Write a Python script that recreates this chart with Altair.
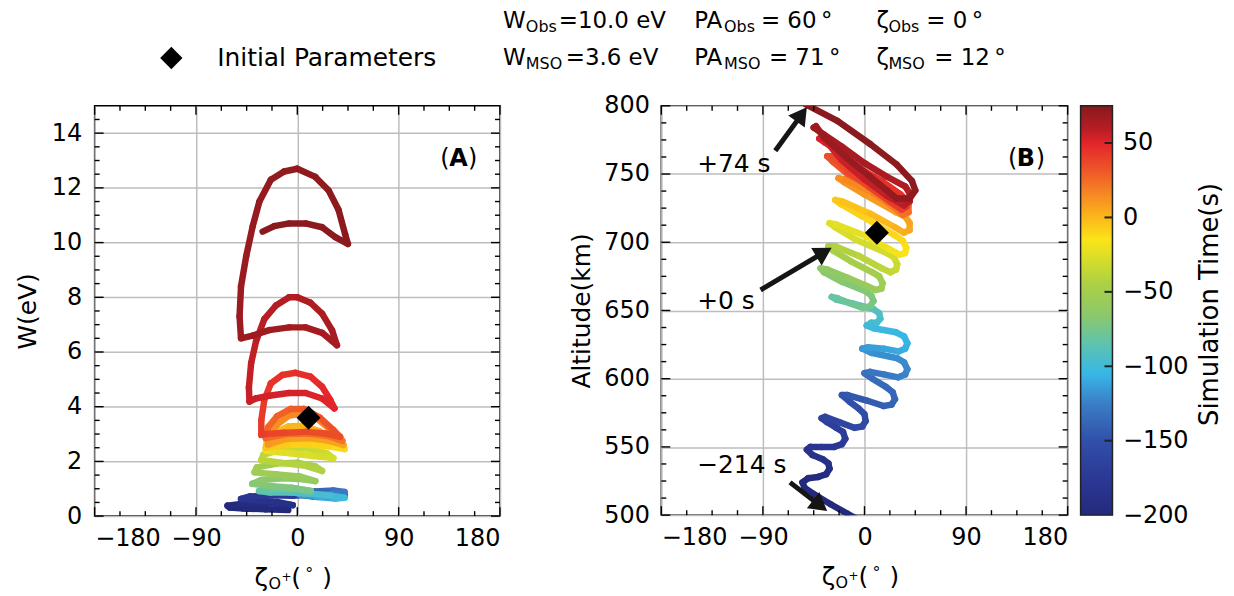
import math
import altair as alt
import pandas as pd

FONT = "DejaVu Sans"

# ---------------- data ----------------
# Panel A : gyrophase zeta (deg), energy W (eV), simulation time (s)
zeta_a = [-8, -28, -48, -60, -62, -50, -30, -12, -4,
          -18, -38, -50, -42, -22, -4,
          15, 32, 42, 32, 14, 2, 16, 32, 42, 30, 12, 2,
          18, 34, 42, 30, 12,
          -6, -24, -34, -22, 0, 12,
          -5, -25, -40, -32, -12, 5, 16,
          2, -18, -38, -36, -18, 0, 16, 22,
          6, -15, -32, -30, -12, 8, 26, 32, 14, -6, -22,
          -28, -27, -20, -8, 5, 20, 35, 42, 28, 10, -8, -22,
          -28, -27, -20, -8, 5, 20, 33, 41, 28, 10, -10,
          -26, -25, -18, -7, 5, 18, 30, 40, 28, 10, -10,
          -28, -26, -18, -6, 6, 20, 32, 38, 25, 8, -12, -28,
          -32, -32, -29.3, -23.5, -13.2, -1.5, 11.7, 22, 29.3, 33, 22, 7.3, -7.3, -25, -37,
          -42.5, -43, -41, -36.6, -29.3, -19, -7.3, 0, 11.7, 22, 30.8, 35.2, 22, 7.3, -7.3, -25, -39.6,
          -50, -51.3, -50, -45.4, -39.6, -33.7, -23.5, -11.7, 0, 16, 27.9, 36.6, 42.5, 44.9,
          33.7, 22, 7.3, -7.3, -20.5, -30.8]
w_a = [0.22, 0.25, 0.28, 0.31, 0.38, 0.44, 0.47, 0.44, 0.40,
       0.52, 0.58, 0.63, 0.72, 0.76, 0.74,
       0.80, 0.82, 0.76, 0.70, 0.72, 0.78, 0.90, 0.94, 0.88, 0.80, 0.78, 0.80,
       0.70, 0.64, 0.67, 0.75, 0.82,
       0.86, 0.86, 0.92, 1.00, 0.99, 0.92,
       1.04, 1.10, 1.18, 1.32, 1.38, 1.35, 1.28,
       1.45, 1.52, 1.60, 1.78, 1.92, 1.95, 1.82, 1.65,
       1.85, 1.95, 2.05, 2.25, 2.45, 2.48, 2.30, 2.12, 2.20, 2.30, 2.35,
       2.40, 2.55, 2.72, 2.84, 2.85, 2.75, 2.55, 2.45, 2.55, 2.62, 2.60, 2.55,
       2.50, 2.75, 3.05, 3.28, 3.30, 3.10, 2.80, 2.60, 2.75, 2.85, 2.82,
       2.62, 2.95, 3.35, 3.68, 3.75, 3.55, 3.15, 2.75, 2.92, 3.02, 3.00,
       2.85, 3.25, 3.65, 3.92, 3.92, 3.60, 3.15, 2.90, 3.02, 3.08, 3.05, 3.00,
       2.97, 3.50, 4.25, 4.85, 5.16, 5.24, 5.10, 4.73, 4.25, 3.94, 4.30, 4.50, 4.50, 4.40, 4.30,
       4.19, 4.70, 5.60, 6.40, 7.20, 7.70, 8.00, 8.00, 7.80, 7.40, 6.80, 6.25, 6.70, 6.90, 6.90, 6.80, 6.60,
       6.50, 7.30, 8.40, 9.50, 10.60, 11.50, 12.30, 12.60, 12.70, 12.40, 11.90, 11.20, 10.30, 9.95,
       10.20, 10.56, 10.70, 10.70, 10.60, 10.40]
t_a = [-214, -210, -206, -203, -201, -198, -195, -192, -190,
       -187, -184, -181, -178, -175, -172,
       -167, -162, -157, -153, -149, -145, -140, -135, -130, -125, -121, -117,
       -112, -107, -102, -98, -94,
       -90, -87, -84, -81, -78, -75,
       -72, -70, -68, -66, -64, -62, -60,
       -57.5, -55.5, -53.5, -52, -50, -48, -46, -44.5,
       -42.5, -41, -39.5, -38, -36, -34, -32, -30, -28, -26, -24,
       -22, -20.5, -19, -17.5, -16, -14.5, -13, -12, -10.5, -9, -7.5, -6,
       -5, -3.5, -2, -0.5, 1, 2.5, 4, 5.5, 7, 8, 9,
       10, 11.5, 13, 14.5, 16, 17.5, 19, 20.5, 22, 23, 24,
       25, 26, 27.5, 29, 30.5, 32, 33.5, 34.5, 35.5, 36.5, 37.5, 38.5,
       41, 42, 43, 44, 45, 46, 47, 48, 49, 50, 51, 52, 53, 54, 54.8,
       55.5, 56, 57, 58, 59, 60, 61, 61.5, 62.3, 63, 63.7, 64.3, 65, 65.7, 66.3, 67, 67.6,
       68, 68.4, 68.8, 69.3, 69.8, 70.3, 70.8, 71.3, 71.7, 72.1, 72.5, 72.9, 73.2, 73.4,
       73.6, 73.7, 73.8, 73.9, 73.95, 74]

# Panel B : gyrophase zeta (deg), altitude (km), simulation time (s)
zeta_b = [-2, -15, -30, -44, -53, -55, -50, -41, -34, -31, -32, -37,
          -46, -51, -48, -38, -27, -20, -17, -19, -25,
          -33, -38, -35, -22, -9, -2, 1, 0, -5,
          -13, -20, -15, 2, 17, 24, 27, 25, 19,
          7, 0, 5, 18, 30, 36, 38, 35, 29,
          6, -2, 3, 17, 30, 36, 38, 35, 28,
          8, 2, 6, 11, 14, 13, 8,
          -10, -25, -29, -24, -12, -2, 5, 8, 6, 1,
          -20, -36, -39, -33, -15, 2, 10, 15, 16, 13, 7,
          -12, -28, -32, -26, -5, 15, 23, 28, 29, 26, 20,
          -8, -26, -31, -25, 0, 22, 31, 36, 37, 34, 27,
          -2, -21, -26, -20, 5, 27, 35, 40, 40, 36, 28,
          0, -18, -23, -17, 8, 27, 34, 39, 39, 35, 27,
          5, -15, -28, -33, -28, -15, 5, 22, 33, 37, 37, 32,
          15, 0, -20, -35, -40, -36, -20, 0, 20, 35, 40, 40, 36,
          20, 0, -20, -36, -45, -43, -36, -16, 5, 20, 28.5, 40, 45,
          42, 28.5, 5, -24, -52]
alt_b = [495, 501, 508, 515, 520, 524, 527, 528, 530, 534, 538, 541,
         544, 548, 550, 550, 550, 552, 556, 561, 564,
         568, 571, 572, 568, 564, 565, 569, 574, 578,
         583, 588, 588, 584, 580, 581, 585, 590, 594,
         600, 604, 605, 603, 601, 603, 607, 612, 615,
         619, 622, 623, 622, 620, 622, 626, 631, 634,
         637, 639, 641, 641, 644, 648, 651,
         655, 658, 660, 659, 655, 652, 653, 657, 661, 664,
         671, 678, 681, 680, 674, 668, 665, 666, 670, 675, 678,
         686, 694, 697, 697, 690, 681, 678, 680, 684, 689, 692,
         702, 711, 714, 713, 705, 695, 691, 692, 696, 701, 705,
         719, 728, 731, 730, 721, 711, 707, 709, 714, 719, 722,
         735, 744, 747, 746, 736, 725, 720, 722, 727, 732, 735,
         741, 750, 759, 763, 763, 752, 740, 730, 724, 726, 731, 735,
         745, 752, 765, 773, 776, 776, 760, 746, 734, 727, 730, 736, 741,
         748, 758, 770, 779, 784, 785, 777, 762, 748, 738, 732, 732, 738,
         745, 757, 772, 789, 801]
t_b = [-214, -211, -208, -205, -203, -201, -199, -197, -195, -193, -191, -189,
       -187, -185, -183, -180, -177, -175, -173, -171, -169,
       -167.5, -166, -164, -161, -159, -157, -155.5, -154, -152.5,
       -151, -149, -147, -145, -142, -140, -139, -137.5, -136,
       -135, -133, -131, -128, -126, -124, -123, -121.5, -120,
       -119, -117, -115, -112, -110, -108, -107, -105.5, -104,
       -103, -101, -99, -97, -95, -93, -90,
       -87, -85, -83, -81, -79, -76, -74, -72.5, -71, -69.5,
       -68, -66, -64.5, -63, -61, -58, -56, -54.5, -53, -51.5, -50,
       -48.5, -47, -45.5, -44, -41, -38, -36.5, -35, -33.5, -32, -30.5,
       -29, -27.5, -26, -24.5, -21.5, -18.5, -17, -15.5, -14, -12.5, -11,
       -9.5, -8, -6.5, -5, -2, 1, 2.5, 4, 5.5, 7, 8.5,
       10, 11.5, 13, 14.5, 17.5, 20.5, 22, 23.5, 25, 26.5, 28,
       29.5, 31, 32.5, 34, 35, 36.5, 38.5, 40.5, 42, 43, 44, 45,
       46.5, 48, 50, 51.5, 52.5, 53.5, 55, 56.5, 58, 59, 60, 61, 62,
       63, 64, 65, 66, 67, 67.5, 68, 69, 70, 70.7, 71.2, 71.7, 72.2,
       72.6, 73, 73.4, 73.7, 74]

# initial parameters (diamonds)
init_a = {"zeta": [10], "w": [3.6]}
init_b = {"zeta": [11], "alt": [707]}

# annotation arrows in panel B (tail -> head) and labels
arrow_label = ["+74 s", "+0 s", "\u2212214 s"]
arrow_tail_z = [-79, -92, -66]
arrow_tail_alt = [767, 665, 524]
arrow_head_z = [-51, -29, -33]
arrow_head_alt = [799, 696, 503]

# colour scale (simulation time -> jet-like colours)
cb_values = [-200, -175, -150, -125, -105, -85, -65, -45, -30, -15, 0, 15, 30, 50, 60, 75]
cb_colors = ["#232a7b", "#2b3895", "#3150a9", "#3a7ec7", "#37b7e6", "#5ec3ae", "#8dc86a",
             "#abd045", "#d2dc2c", "#fbe418", "#fbb71b", "#f68a23", "#ef5b28", "#e3242b",
             "#b51d24", "#861a1d"]
cb_ticks = [-200, -150, -100, -50, 0, 50]

# axis ticks
x_major = [-180, -90, 0, 90, 180]
x_minor = [-157.5, -135, -112.5, -67.5, -45, -22.5, 22.5, 45, 67.5, 112.5, 135, 157.5]
ya_major = [0, 2, 4, 6, 8, 10, 12, 14]
ya_minor = [0.5, 1, 1.5, 2.5, 3, 3.5, 4.5, 5, 5.5, 6.5, 7, 7.5, 8.5, 9, 9.5,
            10.5, 11, 11.5, 12.5, 13, 13.5, 14.5]
yb_major = [500, 550, 600, 650, 700, 750, 800]
yb_minor = [512.5, 525, 537.5, 562.5, 575, 587.5, 612.5, 625, 637.5, 662.5, 675, 687.5,
            712.5, 725, 737.5, 762.5, 775, 787.5]

# ---------------- layout ----------------
WA, HA = 407, 412
WB, HB = 408, 411
CB_X0, CB_X1 = 421, 453   # colour bar position relative to panel B plot
FS = 24
LFS = 24
LINE_W = 6.5
MAJ, MIN = 9, 5

minus = "replace(datum.label, '-', '\u2212')"

color_scale = alt.Scale(domain=cb_values, range=cb_colors, clamp=True, interpolate="rgb")


def segments(xs, ys, ts):
    rows = []
    for i in range(len(xs) - 1):
        rows.append({"x": xs[i], "y": ys[i], "x2": xs[i + 1], "y2": ys[i + 1],
                     "t": (ts[i] + ts[i + 1]) / 2})
    return pd.DataFrame(rows)


one = pd.DataFrame({"k": [0]})


def txt(s, x, y, size=FS, weight="normal", align="left", baseline="middle", angle=0):
    kw = dict(text=s, fontSize=size, fontWeight=weight, align=align, baseline=baseline,
              font=FONT, color="black")
    if angle:
        kw["angle"] = angle
    return alt.Chart(one).mark_text(**kw).encode(x=alt.value(x), y=alt.value(y))


def tick_layers(W, H, ymaj, ymin):
    out = []
    for vals, L in ((x_major, MAJ), (x_minor, MIN)):
        d = pd.DataFrame({"x": vals})
        for y0, y1 in ((H, H - L), (0, L)):
            out.append(alt.Chart(d).mark_rule(color="black", strokeWidth=1.4).encode(
                x="x:Q", y=alt.value(y0), y2=alt.value(y1)))
    for vals, L in ((ymaj, MAJ), (ymin, MIN)):
        d = pd.DataFrame({"y": vals})
        for x0, x1 in ((0, L), (W, W - L)):
            out.append(alt.Chart(d).mark_rule(color="black", strokeWidth=1.4).encode(
                y="y:Q", x=alt.value(x0), x2=alt.value(x1)))
    return out


def xtitle(cx, H):
    # zeta_{O+}(deg)
    base = H + 62
    x0 = cx - 43
    return [
        txt("\u03b6", x0, base, size=FS + 1),
        txt("O", x0 + 14, base + 6, size=16),
        txt("+", x0 + 27, base - 1, size=12),
        txt("(", x0 + 37, base, size=FS + 1),
        txt("\u00b0", x0 + 51, base - 4, size=16),
        txt(")", x0 + 68, base, size=FS + 1),
    ]


def xaxis():
    return alt.Axis(values=x_major, title=None, grid=True, gridColor="#bdbdbd", gridWidth=1.5,
                    ticks=False, domain=False, labelFontSize=LFS, labelPadding=10,
                    labelExpr=minus, labelFont=FONT, labelColor="black")


def yaxis(vals, title, lpad, tpad):
    return alt.Axis(values=vals, title=title, grid=True, gridColor="#bdbdbd", gridWidth=1.5,
                    ticks=False, domain=False, labelFontSize=LFS, labelPadding=lpad,
                    titleFontSize=FS + 1, titleFontWeight="normal", titlePadding=tpad,
                    titleFont=FONT, labelFont=FONT, labelColor="black", titleColor="black")


# ---------------- panel A ----------------
xsA = alt.Scale(domain=[-180, 180], nice=False, zero=False)
ysA = alt.Scale(domain=[0, 15], nice=False, zero=False)
segA = segments(zeta_a, w_a, t_a)

lineA = alt.Chart(segA).mark_rule(strokeWidth=LINE_W, strokeCap="round", clip=True).encode(
    x=alt.X("x:Q", scale=xsA, axis=xaxis()),
    y=alt.Y("y:Q", scale=ysA, axis=yaxis(ya_major, "W(eV)", 13, 11)),
    x2="x2:Q", y2="y2:Q",
    color=alt.Color("t:Q", scale=color_scale, legend=None),
)
dA = pd.DataFrame({"x": init_a["zeta"], "y": init_a["w"]})
diaA = alt.Chart(dA).mark_point(shape="diamond", filled=True, color="black",
                                size=580, opacity=1).encode(x="x:Q", y="y:Q")

HS, SS = 23, 16
header = [
    alt.Chart(one).mark_point(shape="diamond", filled=True, color="black", size=500,
                              opacity=1).encode(x=alt.value(77), y=alt.value(-48)),
    txt("Initial Parameters", 123, -48, size=25),
    txt("W", 410, -85, size=HS), txt("Obs", 433, -79, size=SS), txt("=10.0 eV", 466, -85, size=HS),
    txt("PA", 602, -85, size=HS), txt("Obs", 632, -79, size=SS), txt("= 60\u2009\u00b0", 669, -85, size=HS),
    txt("\u03b6", 785, -85, size=HS), txt("Obs", 797, -79, size=SS), txt("= 0\u2009\u00b0", 835, -85, size=HS),
    txt("W", 410, -48, size=HS), txt("MSO", 433, -42, size=SS), txt("=3.6 eV", 473, -48, size=HS),
    txt("PA", 602, -48, size=HS), txt("MSO", 632, -42, size=SS), txt("= 71\u2009\u00b0", 677, -48, size=HS),
    txt("\u03b6", 785, -48, size=HS), txt("MSO", 797, -42, size=SS), txt("= 12\u2009\u00b0", 843, -48, size=HS),
]
labelA = [txt("(", 347, 53), txt("A", 356, 53, weight="bold"), txt(")", 375, 53)]

panelA = alt.layer(lineA, diaA, *tick_layers(WA, HA, ya_major, ya_minor),
                   *header, *labelA, *xtitle(WA / 2, HA)).properties(width=WA, height=HA)

# ---------------- panel B ----------------
xsB = alt.Scale(domain=[-180, 180], nice=False, zero=False)
ysB = alt.Scale(domain=[500, 800], nice=False, zero=False)
segB = segments(zeta_b, alt_b, t_b)

lineB = alt.Chart(segB).mark_rule(strokeWidth=LINE_W, strokeCap="round", clip=True).encode(
    x=alt.X("x:Q", scale=xsB, axis=xaxis()),
    y=alt.Y("y:Q", scale=ysB, axis=yaxis(yb_major, "Altitude(km)", 12, 9)),
    x2="x2:Q", y2="y2:Q",
    color=alt.Color("t:Q", scale=color_scale, legend=None),
)
dB = pd.DataFrame({"x": init_b["zeta"], "y": init_b["alt"]})
diaB = alt.Chart(dB).mark_point(shape="diamond", filled=True, color="black",
                                size=580, opacity=1).encode(x="x:Q", y="y:Q")

# arrows
px_per_deg = WB / 360.0
px_per_km = HB / 300.0
arr_rows = []
for i in range(len(arrow_label)):
    dx = (arrow_head_z[i] - arrow_tail_z[i]) * px_per_deg
    dy = -(arrow_head_alt[i] - arrow_tail_alt[i]) * px_per_km
    ln = math.hypot(dx, dy)
    ux, uy = dx / ln, dy / ln
    back = 9.0
    arr_rows.append({
        "x": arrow_tail_z[i], "y": arrow_tail_alt[i],
        "x2": arrow_head_z[i] - ux * 12 / px_per_deg, "y2": arrow_head_alt[i] + uy * 12 / px_per_km,
        "hx": arrow_head_z[i] - ux * back / px_per_deg, "hy": arrow_head_alt[i] + uy * back / px_per_km,
        "ang": math.degrees(math.atan2(ux, -uy)) % 360,
    })
arr = pd.DataFrame(arr_rows)
shaft = alt.Chart(arr).mark_rule(color="#151515", strokeWidth=5).encode(
    x="x:Q", y="y:Q", x2="x2:Q", y2="y2:Q")
head = alt.Chart(arr).transform_calculate(x="datum.hx", y="datum.hy").mark_point(
    shape="triangle-up", filled=True, color="#151515", size=420, opacity=1).encode(
    x="x:Q", y="y:Q", angle=alt.Angle("ang:Q", scale=None))

annB = [txt("+74 s", 36, 58, size=25), txt("+0 s", 36, 196, size=25),
        txt("\u2212214 s", 36, 361, size=25)]
labelB = [txt("(", 348, 53), txt("B", 357, 53, weight="bold"), txt(")", 376, 53)]

mainB = alt.layer(lineB, diaB, shaft, head,
                  *tick_layers(WB, HB, yb_major, yb_minor),
                  *annB, *labelB, *xtitle(WB / 2, HB),
                  txt("Simulation Time(s)", 551, HB / 2 - 6, size=26, align="center", angle=270))

# colour bar (independent y scale)
cb_scale = alt.Scale(domain=[-200, 75], nice=False, zero=False)
grad = alt.LinearGradient(
    gradient="linear", x1=0, x2=0, y1=1, y2=0,
    stops=[alt.GradientStop(color=c, offset=(v + 200) / 275.0) for v, c in zip(cb_values, cb_colors)],
)
cb_rect = alt.Chart(pd.DataFrame({"y": [-200], "y2": [75]})).mark_rect(
    fill=grad, stroke="#222222", strokeWidth=1.5).encode(
    x=alt.value(CB_X0), x2=alt.value(CB_X1),
    y=alt.Y("y:Q", scale=cb_scale,
            axis=alt.Axis(orient="right", offset=CB_X1 - WB, values=cb_ticks, ticks=False,
                          domain=False, grid=False, labelFontSize=LFS, labelPadding=10,
                          labelExpr=minus, labelFont=FONT, labelColor="black", title=None)),
    y2="y2:Q",
)
cb_tk = alt.Chart(pd.DataFrame({"y": [-150, -100, -50, 0, 50]})).mark_rule(
    color="#222222", strokeWidth=2).encode(
    y="y:Q", x=alt.value(CB_X1 - 8), x2=alt.value(CB_X1))
cbar = alt.layer(cb_rect, cb_tk)

panelB = alt.layer(mainB, cbar).resolve_scale(y="independent").properties(width=WB, height=HB)

chart = alt.hconcat(panelA, panelB, spacing=162, bounds="flush").properties(
    padding={"left": 6, "top": 0, "right": 2, "bottom": 2}
).configure_view(stroke="black", strokeWidth=1.5).configure_axis(
    labelFont=FONT, titleFont=FONT)

chart.save("out.html", embed_options={"renderer": "svg", "actions": False})
